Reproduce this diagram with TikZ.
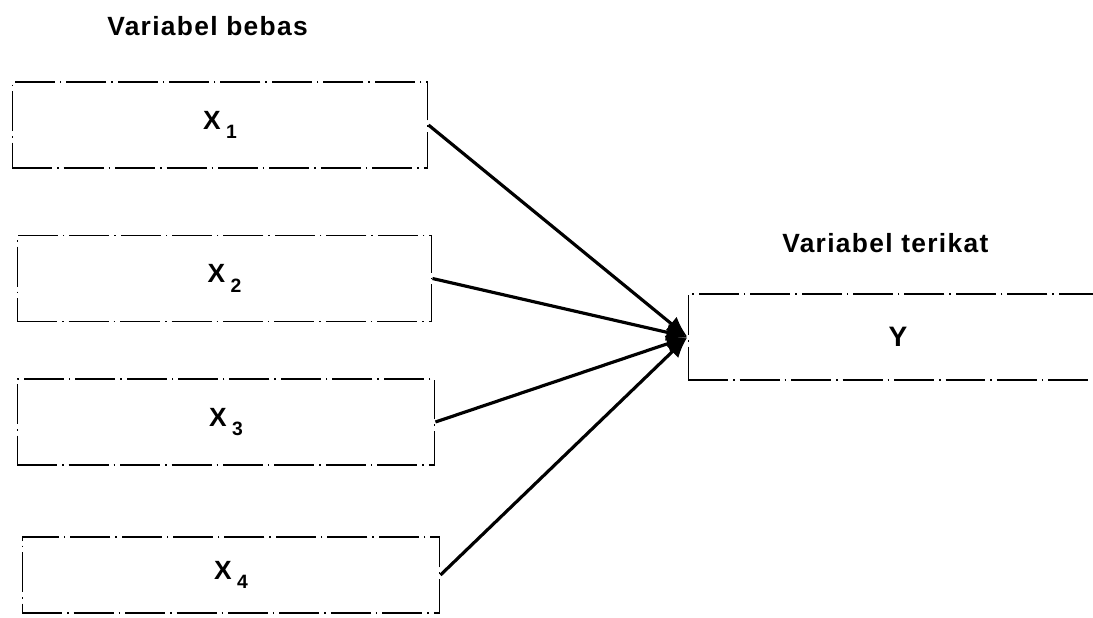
\documentclass[tikz,border=0pt]{standalone}
\usepackage{fontspec}
\setmainfont{Liberation Sans}
\usetikzlibrary{arrows.meta, positioning}
\newcommand{\varsub}[1]{\hspace{3pt}\raisebox{-5.5pt}{\fontsize{11}{11}\selectfont #1}}

\begin{document}
\begin{tikzpicture}[
  x=0.02cm, y=-0.02cm,
  varbox/.style={rectangle, draw=black, line width=0.6pt,
    dash pattern=on 0.8cm off 0.1cm on 0.03cm off 0.1cm,
    minimum width=#1, minimum height=1.72cm, inner sep=0pt,
    font=\fontsize{15}{15}\selectfont\bfseries},
  heading/.style={font=\fontsize{15}{17}\selectfont\bfseries\addfontfeature{LetterSpace=5},
    anchor=base west, inner sep=0pt},
  link/.style={line width=1.8pt, -{Latex[length=12pt, width=10pt]}},
]
  \useasboundingbox (0,0) rectangle (1093,618);

  \node[heading] (bebas) at (107,36) {Variabel bebas};
  \node[heading] (terikat) at (782,253) {Variabel terikat};

  % independent variables
  \node[varbox=8.32cm] (x1) at (220,125) {X\varsub{1}};
  \node[varbox=8.30cm] (x2) at (224.5,278.5) {X\varsub{2}};
  \node[varbox=8.36cm] (x3) at (226,422) {X\varsub{3}};
  \node[varbox=8.36cm, minimum height=1.52cm] (x4) at (231,575) {X\varsub{4}};

  % dependent variable
  \node[varbox=8.40cm, font=\fontsize{16}{16}\selectfont\bfseries] (y) at (898,337) {Y};

  \draw[link] (x1.east) -- (y.west);
  \draw[link] (x2.east) -- (y.west);
  \draw[link] (x3.east) -- (y.west);
  \draw[link] (x4.east) -- (y.west);
\end{tikzpicture}
\end{document}
